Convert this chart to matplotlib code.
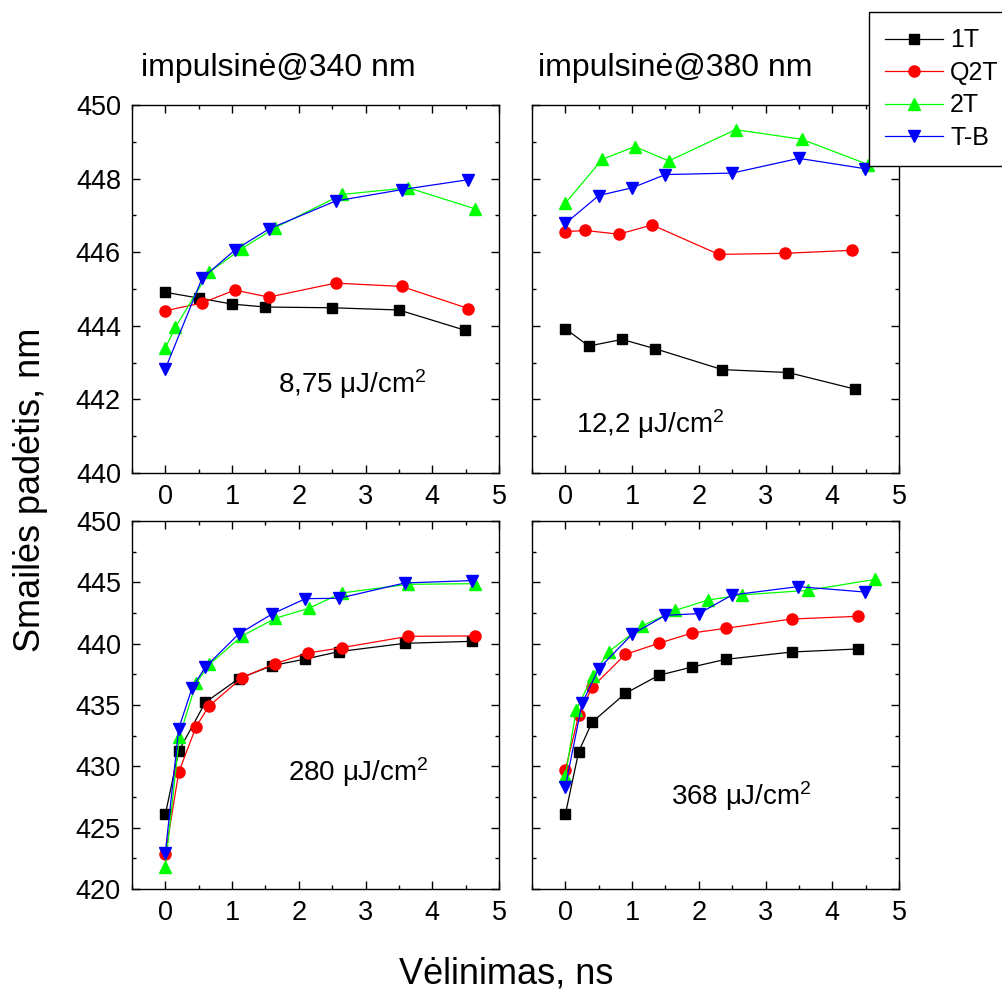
########################################################################################################################
# Peak position vs delay for 1T, Q2T, 2T and T-B samples at four excitation fluences
########################################################################################################################

import numpy as np
import matplotlib.pyplot as plt

plt.rcParams['font.family'] = 'Liberation Sans'
plt.rcParams['mathtext.fontset'] = 'custom'
plt.rcParams['mathtext.rm'] = 'Liberation Sans'
plt.rcParams['mathtext.it'] = 'Liberation Sans:italic'

########################################################################################################################
# Data
########################################################################################################################
series_names = ['1T', 'Q2T', '2T', 'T-B']

# impulsine@340 nm, 8,75 uJ/cm2
a_1t_x = [0, 0.51, 1.0, 1.5, 2.5, 3.5, 4.49]
a_1t_y = [444.91, 444.75, 444.59, 444.51, 444.49, 444.43, 443.88]
a_q2t_x = [0, 0.55, 1.04, 1.55, 2.55, 3.54, 4.54]
a_q2t_y = [444.41, 444.62, 444.97, 444.78, 445.16, 445.07, 444.47]
a_2t_x = [0, 0.15, 0.65, 1.15, 1.65, 2.65, 3.64, 4.64]
a_2t_y = [443.40, 443.96, 445.45, 446.10, 446.67, 447.57, 447.75, 447.18]
a_tb_x = [0, 0.55, 1.05, 1.55, 2.55, 3.54, 4.54]
a_tb_y = [442.83, 445.29, 446.07, 446.63, 447.39, 447.70, 447.97]

# impulsine@380 nm, 12,2 uJ/cm2
b_1t_x = [0, 0.35, 0.85, 1.34, 2.35, 3.34, 4.34]
b_1t_y = [443.92, 443.45, 443.63, 443.38, 442.81, 442.73, 442.28]
b_q2t_x = [0, 0.30, 0.80, 1.30, 2.30, 3.29, 4.29]
b_q2t_y = [446.56, 446.59, 446.49, 446.74, 445.94, 445.97, 446.05]
b_2t_x = [0, 0.55, 1.04, 1.55, 2.55, 3.54, 4.54]
b_2t_y = [447.33, 448.52, 448.87, 448.48, 449.33, 449.07, 448.38]
b_tb_x = [0, 0.50, 1.0, 1.50, 2.50, 3.50, 4.49]
b_tb_y = [446.78, 447.54, 447.75, 448.11, 448.15, 448.55, 448.27]

# 280 uJ/cm2
c_1t_x = [0, 0.2, 0.6, 1.1, 1.6, 2.1, 2.6, 3.59, 4.59]
c_1t_y = [426.09, 431.25, 435.22, 437.15, 438.21, 438.75, 439.35, 440.03, 440.19]
c_q2t_x = [0, 0.2, 0.46, 0.65, 1.15, 1.64, 2.14, 2.64, 3.64, 4.64]
c_q2t_y = [422.85, 429.51, 433.23, 434.89, 437.23, 438.37, 439.24, 439.67, 440.60, 440.63]
c_2t_x = [0, 0.21, 0.46, 0.66, 1.15, 1.65, 2.15, 2.64, 3.64, 4.64]
c_2t_y = [421.82, 432.42, 436.77, 438.32, 440.63, 442.07, 442.88, 444.13, 444.84, 444.89]
c_tb_x = [0, 0.2, 0.40, 0.6, 1.1, 1.6, 2.1, 2.6, 3.59, 4.59]
c_tb_y = [422.96, 433.07, 436.39, 438.10, 440.79, 442.42, 443.67, 443.70, 444.95, 445.14]

# 368 uJ/cm2
d_1t_x = [0, 0.2, 0.4, 0.9, 1.40, 1.90, 2.40, 3.39, 4.39]
d_1t_y = [426.09, 431.20, 433.59, 435.95, 437.42, 438.10, 438.72, 439.32, 439.57]
d_q2t_x = [0, 0.2, 0.4, 0.9, 1.40, 1.90, 2.40, 3.39, 4.39]
d_q2t_y = [429.70, 434.18, 436.44, 439.13, 440.03, 440.87, 441.25, 442.01, 442.23]
d_2t_x = [0, 0.16, 0.41, 0.65, 1.15, 1.65, 2.14, 2.64, 3.64, 4.64]
d_2t_y = [429.21, 434.59, 437.36, 439.35, 441.44, 442.72, 443.56, 443.97, 444.35, 445.24]
d_tb_x = [0, 0.25, 0.5, 1.0, 1.5, 2.0, 2.5, 3.49, 4.49]
d_tb_y = [428.34, 435.14, 437.96, 440.76, 442.31, 442.45, 443.97, 444.65, 444.21]

panel_labels = [r'8,75 μJ/cm$^{2}$', r'12,2 μJ/cm$^{2}$', r'280 μJ/cm$^{2}$', r'368 μJ/cm$^{2}$']
titles = ['impulsinė@340 nm', 'impulsinė@380 nm']

########################################################################################################################
# Styles
########################################################################################################################
colors = ['black', '#ff0000', '#00ff00', '#0000ff']
markers = ['s', 'o', '^', 'v']
msizes = [6.5, 8, 9, 9]

panels = [
    [(a_1t_x, a_1t_y), (a_q2t_x, a_q2t_y), (a_2t_x, a_2t_y), (a_tb_x, a_tb_y)],
    [(b_1t_x, b_1t_y), (b_q2t_x, b_q2t_y), (b_2t_x, b_2t_y), (b_tb_x, b_tb_y)],
    [(c_1t_x, c_1t_y), (c_q2t_x, c_q2t_y), (c_2t_x, c_2t_y), (c_tb_x, c_tb_y)],
    [(d_1t_x, d_1t_y), (d_q2t_x, d_q2t_y), (d_2t_x, d_2t_y), (d_tb_x, d_tb_y)],
]

# axes rectangles in figure fractions [left, bottom, width, height]
W, H = 1003, 994
rects = [
    [132 / W, 1 - 473 / H, 367 / W, 368 / H],
    [532 / W, 1 - 473 / H, 367 / W, 368 / H],
    [132 / W, 1 - 889 / H, 367 / W, 368 / H],
    [532 / W, 1 - 889 / H, 367 / W, 368 / H],
]
label_pos = [(0.398, 0.217), (0.12, 0.109), (0.425, 0.293), (0.379, 0.228)]

########################################################################################################################
# Plot
########################################################################################################################
fig = plt.figure(figsize=(W / 100, H / 100), dpi=100)

handles = []
for k in range(4):
    ax = fig.add_axes(rects[k])
    for j, (xs, ys) in enumerate(panels[k]):
        ln, = ax.plot(xs, ys, color=colors[j], marker=markers[j], ms=msizes[j], lw=0.9,
                      mec=colors[j], label=series_names[j])
        if k == 0:
            handles.append(ln)
    ax.set_xlim(-0.5, 5)
    ax.set_xticks(np.arange(0, 6, 1))
    ax.set_xticks(np.arange(-0.5, 5.01, 0.5), minor=True)
    if k < 2:
        ax.set_ylim(440, 450)
        ax.set_yticks(np.arange(440, 451, 2))
        ax.set_yticks(np.arange(440, 451, 1), minor=True)
    else:
        ax.set_ylim(420, 450)
        ax.set_yticks(np.arange(420, 451, 5))
        ax.set_yticks(np.arange(420, 451, 2.5), minor=True)
    ax.tick_params(which='both', direction='in', top=True, right=True, labelsize=19.5, pad=8, width=1)
    ax.tick_params(which='major', length=6)
    ax.tick_params(which='minor', length=3)
    if k in (1, 3):
        ax.tick_params(labelleft=False)
    for s in ax.spines.values():
        s.set_linewidth(1)
    ax.text(label_pos[k][0], label_pos[k][1], panel_labels[k], transform=ax.transAxes, fontsize=20)

fig.text(141 / W, 1 - 76 / H, titles[0], fontsize=23, va='baseline')
fig.text(538 / W, 1 - 76 / H, titles[1], fontsize=23, va='baseline')
fig.text(31 / W, 1 - 490 / H, 'Smailės padėtis, nm', fontsize=26, rotation=90, ha='center', va='center')
fig.text(506 / W, 1 - 983 / H, 'Vėlinimas, ns', fontsize=26, ha='center', va='baseline')

leg = fig.legend(handles=handles, loc='upper left', bbox_to_anchor=(869 / W, 1 - 12 / H), fontsize=18,
                 frameon=True, fancybox=False, framealpha=1, edgecolor='black', borderaxespad=0,
                 borderpad=0.65, labelspacing=0.34, handlelength=2.3, handletextpad=0.3, numpoints=1,
                 markerscale=1.0)
leg.get_frame().set_linewidth(1)

plt.savefig('out.png', dpi=100)
